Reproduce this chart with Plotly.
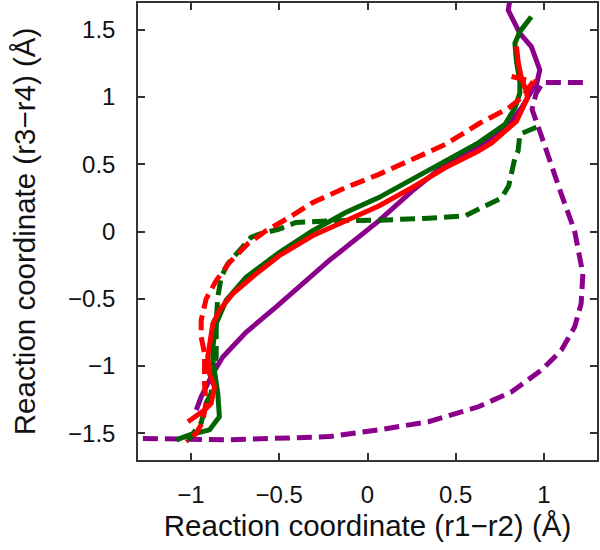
import plotly.graph_objects as go

# ---- data ----
purple_solid_x = [0.81, 0.797, 0.863, 0.928, 0.976, 0.957, 0.928, 0.872, 0.816, 0.666, 0.440, 0.252, 0.064,
                  -0.218, -0.519, -0.688, -0.820, -0.876, -0.942, -0.970]
purple_solid_y = [1.75, 1.647, 1.474, 1.376, 1.203, 1.092, 1.042, 0.919, 0.820, 0.659, 0.499, 0.301, 0.079,
                  -0.217, -0.563, -0.750, -0.933, -1.056, -1.230, -1.328]

green_solid_x = [0.928, 0.863, 0.835, 0.844, 0.863, 0.863, 0.835, 0.778, 0.628, 0.440, 0.252, 0.064, -0.124,
                 -0.312, -0.500, -0.688, -0.801, -0.857, -0.876, -0.876, -0.848, -0.839, -0.895, -1.008, -1.083]
green_solid_y = [1.598, 1.487, 1.400, 1.264, 1.116, 1.030, 0.919, 0.796, 0.659, 0.524, 0.388, 0.252, 0.141,
                 0.005, -0.156, -0.341, -0.513, -0.684, -0.859, -0.958, -1.204, -1.378, -1.476, -1.513, -1.550]

red_solid_x = [0.844, 0.853, 0.872, 0.900, 0.906, 0.882, 0.844, 0.703, 0.628, 0.440, 0.252, 0.064, -0.124,
               -0.312, -0.500, -0.632, -0.764, -0.839, -0.876, -0.895, -0.905, -0.895, -0.867, -0.886, -0.923, -1.017]
red_solid_y = [1.376, 1.264, 1.141, 1.042, 0.993, 0.919, 0.820, 0.659, 0.598, 0.474, 0.326, 0.190, 0.079,
               -0.032, -0.180, -0.316, -0.464, -0.587, -0.686, -0.834, -0.933, -1.056, -1.156, -1.279, -1.328, -1.415]

red_dash_x = [0.816, 0.938, 0.882, 0.797, 0.637, 0.440, 0.252, 0.064, -0.124, -0.312, -0.444, -0.575, -0.679,
              -0.782, -0.857, -0.914, -0.942, -0.942, -0.923, -0.923, -0.923, -0.914, -0.933, -0.970, -1.027]
red_dash_y = [1.153, 1.116, 1.005, 0.916, 0.807, 0.647, 0.536, 0.425, 0.326, 0.215, 0.104, 0.005, -0.093,
              -0.230, -0.365, -0.501, -0.661, -0.785, -0.908, -1.032, -1.143, -1.267, -1.415, -1.501, -1.563]

green_dash_x = [0.957, 0.863, 0.853, 0.835, 0.800, 0.760, 0.628, 0.553, 0.346, 0.064, -0.218, -0.406, -0.500,
                -0.613, -0.660, -0.726, -0.792, -0.829, -0.848, -0.857, -0.861, -0.857, -0.867, -0.886, -0.914,
                -0.942, -1.017]
green_dash_y = [0.776, 0.724, 0.598, 0.548, 0.340, 0.250, 0.166, 0.116, 0.099, 0.084, 0.079, 0.067, 0.018,
                -0.019, -0.044, -0.143, -0.241, -0.341, -0.489, -0.661, -0.834, -0.933, -0.980, -1.204, -1.276,
                -1.424, -1.550]

purple_dash_x = [1.220, 0.994, 0.955, 0.932, 0.976, 1.013, 1.098, 1.173, 1.220, 1.210, 1.173, 1.098, 0.985,
                 0.816, 0.628, 0.346, 0.064, -0.218, -0.782, -1.35]
purple_dash_y = [1.109, 1.109, 1.027, 0.909, 0.746, 0.598, 0.277, 0.005, -0.316, -0.538, -0.711, -0.884, -1.032,
                 -1.193, -1.304, -1.415, -1.476, -1.526, -1.550, -1.538]

tick_vals_x = [-1, -0.5, 0, 0.5, 1]
tick_text_x = ["\u22121", "\u22120.5", "0", "0.5", "1"]
tick_vals_y = [-1.5, -1, -0.5, 0, 0.5, 1, 1.5]
tick_text_y = ["\u22121.5", "\u22121", "\u22120.5", "0", "0.5", "1", "1.5"]

GREEN = "#006400"
RED = "#ff0000"
PURPLE = "#8b008b"
DASH = "15px,7px"
LW = 5
FONT = "Liberation Sans, Arial, sans-serif"

fig = go.Figure()
series = [
    (purple_dash_x, purple_dash_y, PURPLE, DASH),
    (purple_solid_x, purple_solid_y, PURPLE, "solid"),
    (green_dash_x, green_dash_y, GREEN, DASH),
    (green_solid_x, green_solid_y, GREEN, "solid"),
    (red_dash_x, red_dash_y, RED, DASH),
    (red_solid_x, red_solid_y, RED, "solid"),
]
for xs, ys, col, dash in series:
    fig.add_trace(go.Scatter(x=xs, y=ys, mode="lines",
                             line=dict(color=col, width=LW, dash=dash),
                             showlegend=False, hoverinfo="skip"))

axis_common = dict(showgrid=False, zeroline=False, showline=True, linecolor="#333333", linewidth=1.5,
                   mirror="ticks", ticks="inside", ticklen=7, tickwidth=1.5, tickcolor="#333333",
                   tickfont=dict(family=FONT, size=24, color="#111111"),
                   title_font=dict(family=FONT, size=29.5, color="#111111"))

fig.update_xaxes(range=[-1.3, 1.3], tickvals=tick_vals_x, ticktext=tick_text_x,
                 title_text="Reaction coordinate (r1\u2212r2) (\u00c5)", title_standoff=9,
                 ticklabelstandoff=12, **axis_common)
fig.update_yaxes(range=[-1.7, 1.7], tickvals=tick_vals_y, ticktext=tick_text_y,
                 title_text="Reaction coordinate (r3\u2212r4) (\u00c5)", title_standoff=24,
                 ticklabelstandoff=16, **axis_common)

fig.update_layout(width=600, height=550, margin=dict(l=138, r=2, t=1, b=90),
                  paper_bgcolor="white", plot_bgcolor="white")

fig.write_html("out.html", config={"displayModeBar": False},
               post_script="document.body.style.margin='0';")
